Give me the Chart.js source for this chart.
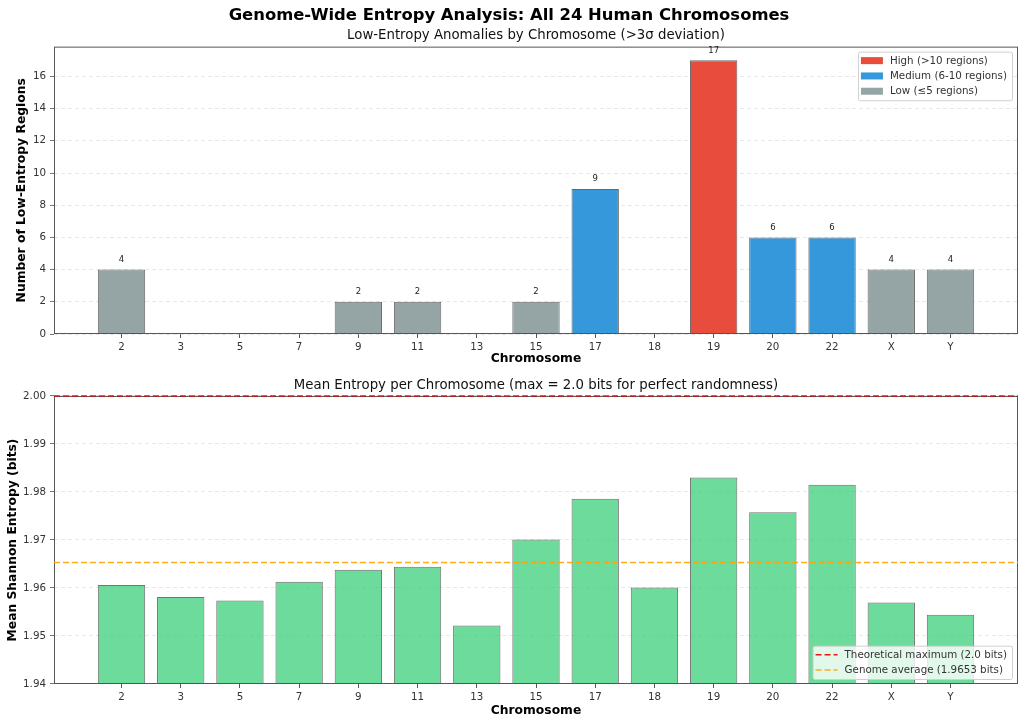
<!DOCTYPE html>
<html>
<head>
<meta charset="utf-8">
<script src="https://cdn.jsdelivr.net/npm/chart.js@4.4.0/dist/chart.umd.min.js"></script>
<style>
  html, body { margin: 0; padding: 0; background: #fff; }
  #wrap { position: relative; width: 1024px; height: 725px; }
  canvas { position: absolute; left: 0; }
</style>
</head>
<body>
<div id="wrap">
  <canvas id="anomalyChart" width="1024" height="370" style="top:0"></canvas>
  <canvas id="entropyChart" width="1024" height="355" style="top:370px"></canvas>
</div>
<script>
// chromosome data
const chromosomes = ['2', '3', '5', '7', '9', '11', '13', '15', '17', '18', '19', '20', '22', 'X', 'Y'];
const anomalyCounts = [4, 0, 0, 0, 2, 2, 0, 2, 9, 0, 17, 6, 6, 4, 4];
const meanEntropy = [1.9606, 1.9581, 1.9574, 1.9613, 1.9638, 1.9644, 1.9522, 1.9701, 1.9786, 1.9601, 1.9830, 1.9758, 1.9815, 1.9570, 1.9544];
const countTicks = [0, 2, 4, 6, 8, 10, 12, 14, 16];
const entropyTicks = [1.94, 1.95, 1.96, 1.97, 1.98, 1.99, 2.00];
const theoreticalMax = 2.0;
const genomeAverage = 1.9653;

const FONT = '"DejaVu Sans", "Liberation Sans", sans-serif';
const INK = '#333';

function severityColor(n) {
  if (n > 10) return '#e74c3c';
  if (n >= 6) return '#3498db';
  return '#95a5a6';
}

// axes frame, reference lines and bar labels
const axesDecor = {
  id: 'axesDecor',
  afterDatasetsDraw(chart, args, opts) {
    const { ctx, chartArea: a } = chart;
    const yScale = chart.scales.y;
    ctx.save();
    ctx.strokeStyle = '#555';
    ctx.lineWidth = 1;
    ctx.strokeRect(a.left + 0.5, a.top + 0.5, a.right - a.left - 1, a.bottom - a.top - 1);

    (opts.lines || []).forEach(l => {
      const y = yScale.getPixelForValue(l.value);
      ctx.beginPath();
      ctx.setLineDash([6, 3]);
      ctx.lineWidth = 1.6;
      ctx.strokeStyle = l.color;
      ctx.moveTo(a.left, y);
      ctx.lineTo(a.right, y);
      ctx.stroke();
    });
    ctx.setLineDash([]);

    if (opts.valueLabels) {
      const meta = chart.getDatasetMeta(0);
      ctx.font = '8.5px ' + FONT;
      ctx.fillStyle = '#222';
      ctx.textAlign = 'center';
      ctx.textBaseline = 'middle';
      meta.data.forEach((bar, i) => {
        const v = chart.data.datasets[0].data[i].y;
        if (v > 0) ctx.fillText(String(v), bar.x, bar.y - 10);
      });
    }
    ctx.restore();
  }
};

// legend boxed inside the plot, like matplotlib's
const insideLegend = {
  id: 'insideLegend',
  afterDraw(chart, args, opts) {
    const items = opts.items;
    if (!items) return;
    const { ctx, chartArea: a } = chart;
    ctx.save();
    ctx.font = '10.3px ' + FONT;
    const textW = Math.max(...items.map(it => ctx.measureText(it.text).width));
    const rowH = 15.3;
    const w = 32 + textW + 5;
    const h = 18 + (items.length - 1) * rowH;
    const x = a.right - 6 - w;
    const y = opts.corner === 'top' ? a.top + 5 : a.bottom - 5 - h;
    ctx.beginPath();
    ctx.roundRect(x + 0.5, y + 0.5, w, h, 2);
    ctx.fillStyle = 'rgba(255,255,255,0.8)';
    ctx.fill();
    ctx.strokeStyle = '#d0d0d0';
    ctx.lineWidth = 1;
    ctx.stroke();
    items.forEach((it, i) => {
      const cy = y + 9 + i * rowH;
      if (it.type === 'line') {
        ctx.beginPath();
        ctx.setLineDash([6, 3]);
        ctx.strokeStyle = it.color;
        ctx.lineWidth = 1.6;
        ctx.moveTo(x + 3, cy);
        ctx.lineTo(x + 25, cy);
        ctx.stroke();
        ctx.setLineDash([]);
      } else {
        ctx.fillStyle = it.color;
        ctx.fillRect(x + 3, cy - 3.5, 22, 7);
      }
      ctx.fillStyle = INK;
      ctx.textAlign = 'left';
      ctx.textBaseline = 'middle';
      ctx.fillText(it.text, x + 32, cy + 0.5);
    });
    ctx.restore();
  }
};

function xAxis(height, titleBottom) {
  return {
    type: 'linear',
    min: -1.14,
    max: chromosomes.length - 1 + 1.14,
    offset: false,
    afterBuildTicks: s => { s.ticks = chromosomes.map((c, i) => ({ value: i })); },
    afterFit: s => { s.height = height; },
    ticks: {
      autoSkip: false, maxRotation: 0, padding: 3, color: INK,
      font: { family: FONT, size: 10.3 },
      callback: v => chromosomes[v]
    },
    grid: { display: true, drawOnChartArea: false, offset: false, tickLength: 4, tickColor: '#555' },
    border: { display: false },
    title: {
      display: true, text: 'Chromosome', color: '#000',
      font: { family: FONT, size: 12.3, weight: 'bold' },
      padding: { top: 0, bottom: titleBottom }
    }
  };
}

function yAxis(min, max, tickValues, fmt, title, titlePad) {
  return {
    min: min, max: max,
    afterBuildTicks: s => { s.ticks = tickValues.map(v => ({ value: v })); },
    afterFit: s => { s.width = 54; },
    ticks: { padding: 4, color: INK, font: { family: FONT, size: 10.3 }, callback: fmt },
    grid: { color: 'rgba(190,190,190,0.45)', lineWidth: 0.8, tickLength: 4, tickColor: '#555', tickBorderDash: [] },
    border: { display: false, dash: [4, 3] },
    title: {
      display: true, text: title, color: '#000',
      font: { family: FONT, size: 12.3, weight: 'bold' },
      padding: { top: titlePad, bottom: 0 }
    }
  };
}

new Chart(document.getElementById('anomalyChart'), {
  type: 'bar',
  data: {
    datasets: [{
      data: anomalyCounts.map((v, i) => ({ x: i, y: v })),
      backgroundColor: anomalyCounts.map(severityColor),
      borderColor: 'rgba(0,0,0,0.6)',
      borderWidth: 1,
      barPercentage: 0.8,
      categoryPercentage: 1.0
    }]
  },
  options: {
    responsive: false,
    animation: false,
    layout: { padding: { left: 0, right: 6, top: 0, bottom: 0 } },
    scales: {
      x: xAxis(36, 3.8),
      y: yAxis(0, 17.85, countTicks, v => String(v), 'Number of Low-Entropy Regions', 14.5)
    },
    plugins: {
      legend: { display: false },
      tooltip: { enabled: false },
      title: {
        display: true, text: 'Genome-Wide Entropy Analysis: All 24 Human Chromosomes', color: '#000',
        font: { family: FONT, size: 16.4, weight: 'bold' }, padding: { top: 6, bottom: 0 }
      },
      subtitle: {
        display: true, fullSize: false, text: 'Low-Entropy Anomalies by Chromosome (>3σ deviation)', color: '#111',
        font: { family: FONT, size: 13.3 }, padding: { top: 2, bottom: 3 }
      },
      axesDecor: { valueLabels: true },
      insideLegend: {
        corner: 'top',
        items: [
          { type: 'patch', color: '#e74c3c', text: 'High (>10 regions)' },
          { type: 'patch', color: '#3498db', text: 'Medium (6-10 regions)' },
          { type: 'patch', color: '#95a5a6', text: 'Low (≤5 regions)' }
        ]
      }
    }
  },
  plugins: [axesDecor, insideLegend]
});

new Chart(document.getElementById('entropyChart'), {
  type: 'bar',
  data: {
    datasets: [{
      data: meanEntropy.map((v, i) => ({ x: i, y: v })),
      backgroundColor: 'rgba(46,204,113,0.7)',
      borderColor: 'rgba(0,0,0,0.55)',
      borderWidth: 1,
      barPercentage: 0.8,
      categoryPercentage: 1.0
    }]
  },
  options: {
    responsive: false,
    animation: false,
    layout: { padding: { left: 0, right: 6, top: 0, bottom: 0 } },
    scales: {
      x: xAxis(41, 6.8),
      y: yAxis(1.94, 2.0, entropyTicks, v => v.toFixed(2), 'Mean Shannon Entropy (bits)', 5)
    },
    plugins: {
      legend: { display: false },
      tooltip: { enabled: false },
      title: {
        display: true, fullSize: false,
        text: 'Mean Entropy per Chromosome (max = 2.0 bits for perfect randomness)', color: '#111',
        font: { family: FONT, size: 13.3, weight: 'normal' }, padding: { top: 7.5, bottom: 2.5 }
      },
      axesDecor: {
        lines: [
          { value: theoreticalMax, color: 'rgba(220,0,0,0.85)' },
          { value: genomeAverage, color: 'rgba(255,165,0,0.9)' }
        ]
      },
      insideLegend: {
        corner: 'bottom',
        items: [
          { type: 'line', color: 'rgba(230,0,0,0.9)', text: 'Theoretical maximum (2.0 bits)' },
          { type: 'line', color: 'rgba(255,165,0,0.9)', text: 'Genome average (1.9653 bits)' }
        ]
      }
    }
  },
  plugins: [axesDecor, insideLegend]
});
</script>
</body>
</html>
